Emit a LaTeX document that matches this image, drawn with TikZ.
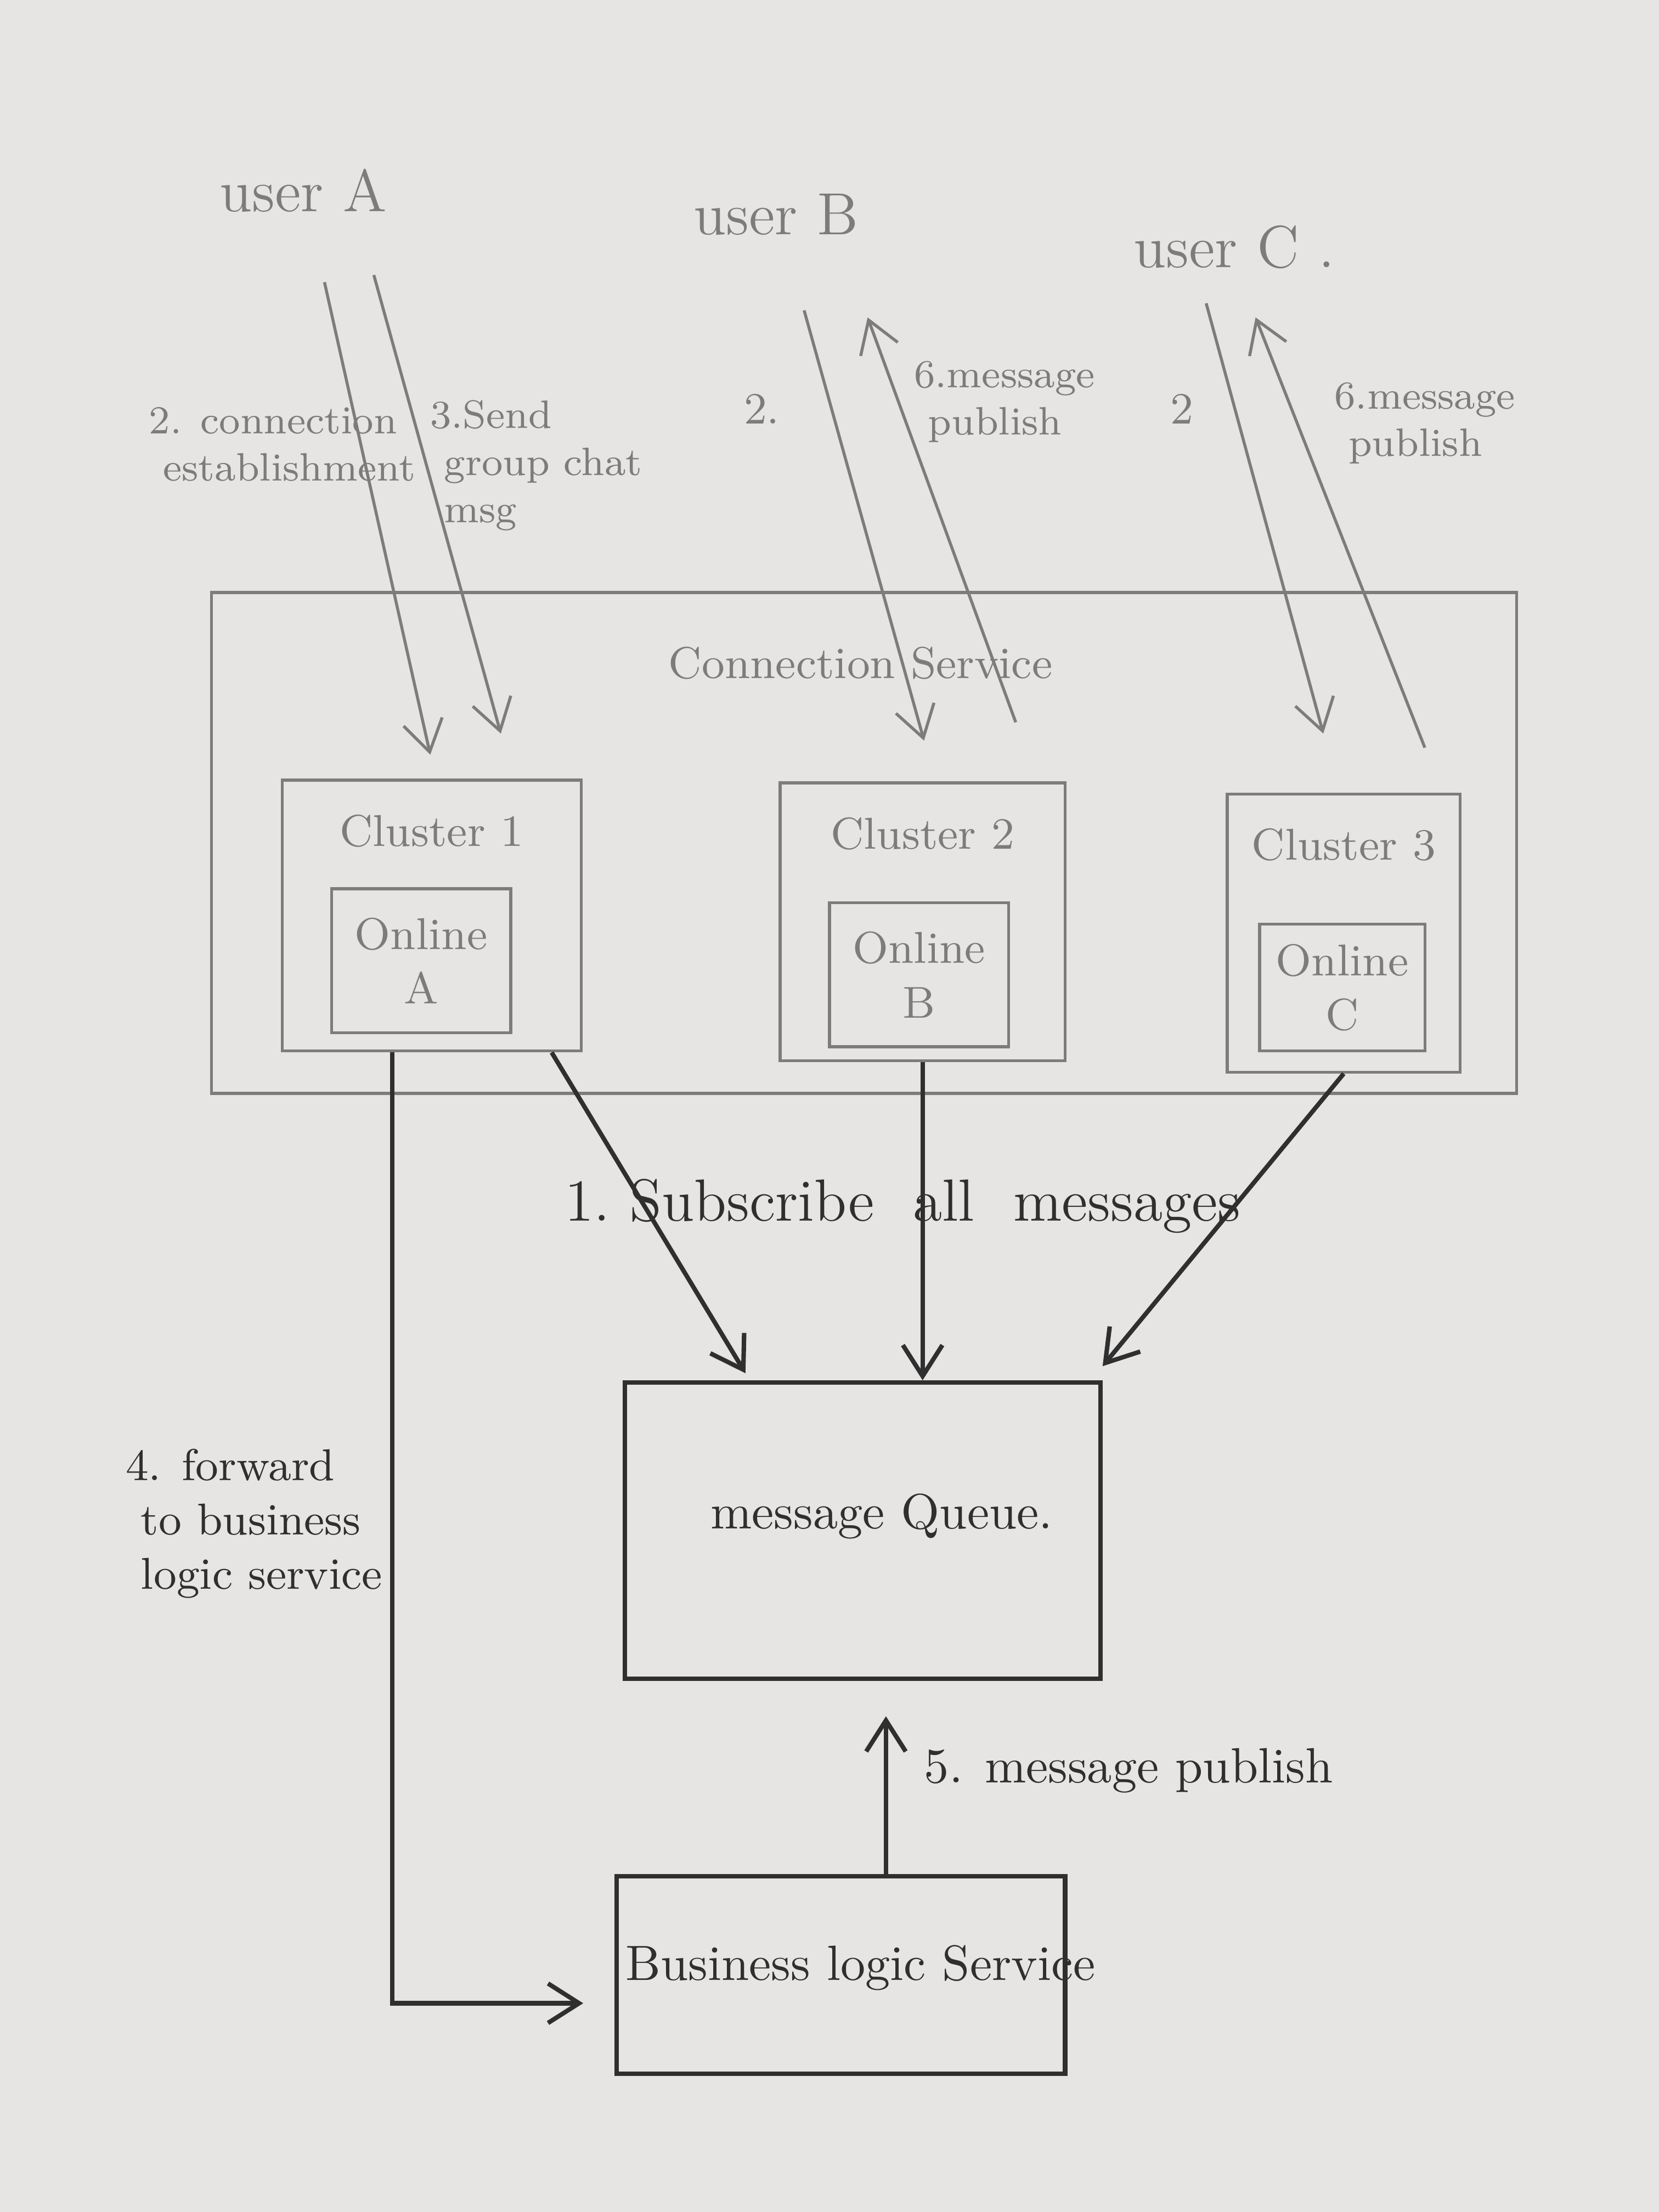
\documentclass[tikz,border=0pt]{standalone}
\usetikzlibrary{arrows.meta}
\definecolor{paper}{HTML}{E6E5E3}
\definecolor{pencil}{HTML}{7C7C7C}
\definecolor{lead}{HTML}{2F2F2F}

\begin{document}
\begin{tikzpicture}[
    pen/.style={draw=pencil, line width=0.6pt},
    dark/.style={draw=lead, line width=0.9pt},
    tip/.style={-{Straight Barb[length=2.2mm,width=2.8mm]}},
    note/.style={text=pencil, align=left},
    hand/.style={text=lead, align=left}]
  \fill[paper] (0,0) rectangle (11.76,-15.68); % sheet of paper
  \useasboundingbox (0,0) rectangle (11.76,-15.68);

  % the three users on top
  \node[note, font=\large] (userA) at (2.15,-1.35) {user A};
  \node[note, font=\large] (userB) at (5.50,-1.52) {user B};
  \node[note, font=\large] (userC) at (8.75,-1.75) {user C .};

  % Connection Service with its clusters
  \node[pen, minimum width=9.25cm, minimum height=3.55cm] (conn) at (6.125,-5.975) {};
  \node[note, font=\small] (connlbl) at (6.10,-4.70) {Connection Service};
  \foreach \n/\cx/\cy/\cw/\ch/\ox/\oy/\ow/\oh/\u in
      {1/3.06/-6.49/2.12/1.92/2.985/-6.81/1.27/1.02/A,
       2/6.54/-6.535/2.02/1.97/6.515/-6.91/1.27/1.02/B,
       3/9.525/-6.615/1.65/1.97/9.515/-7.00/0.97/0.90/C}
  {
    \node[pen, minimum width=\cw cm, minimum height=\ch cm] (c\n) at (\cx,\cy) {};
    \node[note, font=\small] (cl\n) at ([yshift=-3.7mm]c\n.north) {Cluster \n};
    \node[pen, note, align=center, font=\small, minimum width=\ow cm, minimum height=\oh cm]
      (o\n) at (\ox,\oy) {Online\\\u};
  }

  % message Queue and Business logic Service
  \node[dark, minimum width=3.37cm, minimum height=2.10cm] (mq) at (6.115,-10.85) {};
  \node[hand] (mqlbl) at (6.25,-10.75) {message Queue.};
  \node[dark, minimum width=3.18cm, minimum height=1.40cm] (bls) at (5.96,-14.00) {};
  \node[hand] (blslbl) at (6.10,-13.95) {Business logic Service};

  % ends of the user connections
  \coordinate (a2s) at (2.30,-2.00); \coordinate (a2e) at (3.05,-5.35);
  \coordinate (a3s) at (2.65,-1.95); \coordinate (a3e) at (3.55,-5.20);
  \coordinate (b2s) at (5.70,-2.20); \coordinate (b2e) at (6.55,-5.25);
  \coordinate (b6s) at (7.20,-5.12); \coordinate (b6e) at (6.15,-2.25);
  \coordinate (c2s) at (8.55,-2.15); \coordinate (c2e) at (9.38,-5.20);
  \coordinate (c6s) at (10.10,-5.30); \coordinate (c6e) at (8.90,-2.25);
  \foreach \s in {a2,a3,b2,c2} % requests going down
    \draw[pen, tip] (\s s) -- (\s e);
  \foreach \s in {b6,c6} % publishes going up
    \draw[pen, tip] (\s s) -- (\s e);

  % labels of the user connections
  \node[note, font=\footnotesize] (l2a) at (2.00,-3.15) {2. connection\\ \ establishment};
  \node[note, font=\footnotesize] (l3a) at (3.80,-3.30) {3.Send\\ \ group chat\\ \ msg};
  \node[note, font=\small] (l2b) at (5.40,-2.90) {2.};
  \node[note, font=\footnotesize] (l6b) at (7.12,-2.85) {6.message\\ \ publish};
  \node[note, font=\small] (l2c) at (8.38,-2.90) {2};
  \node[note, font=\footnotesize] (l6c) at (10.10,-3.00) {6.message\\ \ publish};

  % subscriptions of the clusters
  \draw[dark, tip] ([xshift=-2.2mm]c1.south east) -- ([xshift=8.7mm,yshift=0.5mm]mq.north west);
  \draw[dark, tip] (c2.south) -- (c2.south |- mq.north);
  \draw[dark, tip] (c3.south) -- ([yshift=1mm]mq.north east);
  \node[hand, font=\large] (l1) at (6.40,-8.55) {1.\ Subscribe \ all \ messages};

  % forward and publish
  \draw[dark, tip] ([xshift=-2.8mm]c1.south) |- ([xshift=-2.2mm,yshift=-2mm]bls.west);
  \node[hand, font=\small] (l4) at (1.80,-10.80) {4. forward\\ \ to business\\ \ logic service};
  \draw[dark, tip, shorten >=2.5mm] ([xshift=3.2mm]bls.north) -- ([xshift=3.2mm]bls.north |- mq.south);
  \node[hand] (l5) at (8.00,-12.55) {5. message publish};
\end{tikzpicture}
\end{document}
